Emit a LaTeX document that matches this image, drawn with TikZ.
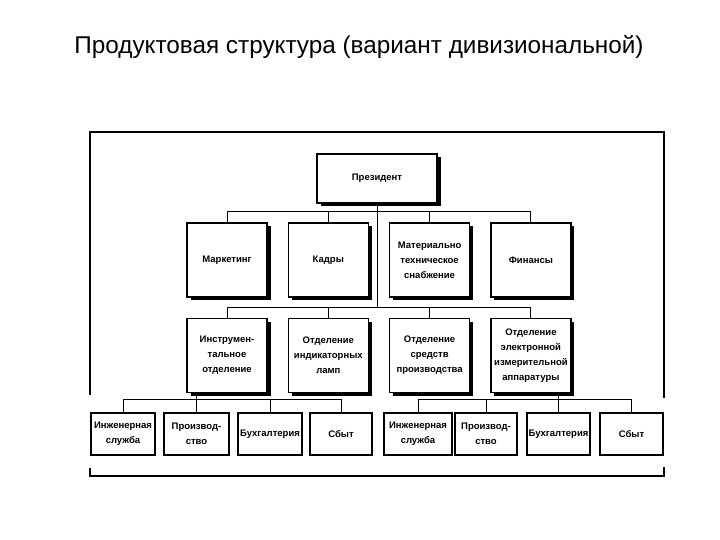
\documentclass[tikz,border=0pt]{standalone}
\usepackage{fontspec}
\setmainfont{Liberation Sans}
\usetikzlibrary{positioning,calc,shadows}

\begin{document}
\begin{tikzpicture}[
  x=1pt, y=1pt,
  node distance=20pt and 20pt,
  unit/.style={draw, line width=1.3pt, fill=white, minimum width=80pt, minimum height=74pt, inner sep=1pt, align=center, font=\fontsize{9.5}{15}\selectfont\bfseries, drop shadow={shadow xshift=3.5pt, shadow yshift=-3.5pt, fill=black, opacity=1}},
  dept/.style={draw, line width=1.1pt, fill=white, minimum height=42pt, inner sep=1pt, align=center, font=\fontsize{9.5}{15}\selectfont\bfseries},
  link/.style={line width=1pt},
  frame/.style={line width=1.2pt},
]
\useasboundingbox (0,0) rectangle (720,540);
\draw[frame] (90,145) -- (90,408) -- (664,408) -- (664,142);
\draw[frame] (90,72) -- (90,64) -- (664,64) -- (664,73);
\node[font=\fontsize{24.3}{28}\selectfont] (title) at (359,493) {Продуктовая структура (вариант дивизиональной)};
\node[unit, minimum width=120pt, minimum height=49pt] (pres) at (377,361.5) {Президент};
\node[unit] (mark) at (227,280) {Маркетинг};
\node[unit, right=of mark] (kadr) {Кадры};
\node[unit, right=of kadr] (mts) {Материально\\техническое\\снабжение};
\node[unit, right=of mts] (fin) {Финансы};
\node[unit, below=of mark] (instr) {Инструмен-\\тальное\\отделение};
\node[unit, below=of kadr] (lamp) {Отделение\\индикаторных\\ламп};
\node[unit, below=of mts] (sredstv) {Отделение\\средств\\производства};
\node[unit, below=of fin] (elektr) {Отделение\\электронной\\измерительной\\аппаратуры};
\node[dept, minimum width=64pt] (ing1) at (123,106) {Инженерная\\служба};
\node[dept, minimum width=65pt] (proizv1) at (196.5,106) {Производ-\\ство};
\node[dept, minimum width=64pt] (buh1) at (270,106) {Бухгалтерия};
\node[dept, minimum width=62pt] (sbyt1) at (341,106) {Сбыт};
\node[dept, minimum width=68pt] (ing2) at (418,106) {Инженерная\\служба};
\node[dept, minimum width=62pt] (proizv2) at (486,106) {Производ-\\ство};
\node[dept, minimum width=63pt] (buh2) at (558.5,106) {Бухгалтерия};
\node[dept, minimum width=63pt] (sbyt2) at (631.5,106) {Сбыт};
\draw[link] (mark.north) -- ++(0,11) -| (fin.north);
\draw[link] (kadr.north) -- ++(0,11);
\draw[link] (mts.north) -- ++(0,11);
\draw[link] (pres.south) -- ($(pres.south |- instr.north)+(0,10)$);
\draw[link] (instr.north) -- ++(0,10) -| (elektr.north);
\draw[link] (lamp.north) -- ++(0,10);
\draw[link] (sredstv.north) -- ++(0,10);
\draw[link] (instr.south -| proizv1.north) -- (proizv1.north);
\draw[link] (ing1.north) -- ++(0,13) -| (sbyt1.north);
\draw[link] (buh1.north) -- ++(0,13);
\draw[link] (elektr.south -| buh2.north) -- (buh2.north);
\draw[link] (ing2.north) -- ++(0,13) -| (sbyt2.north);
\draw[link] (proizv2.north) -- ++(0,13);
\end{tikzpicture}
\end{document}
